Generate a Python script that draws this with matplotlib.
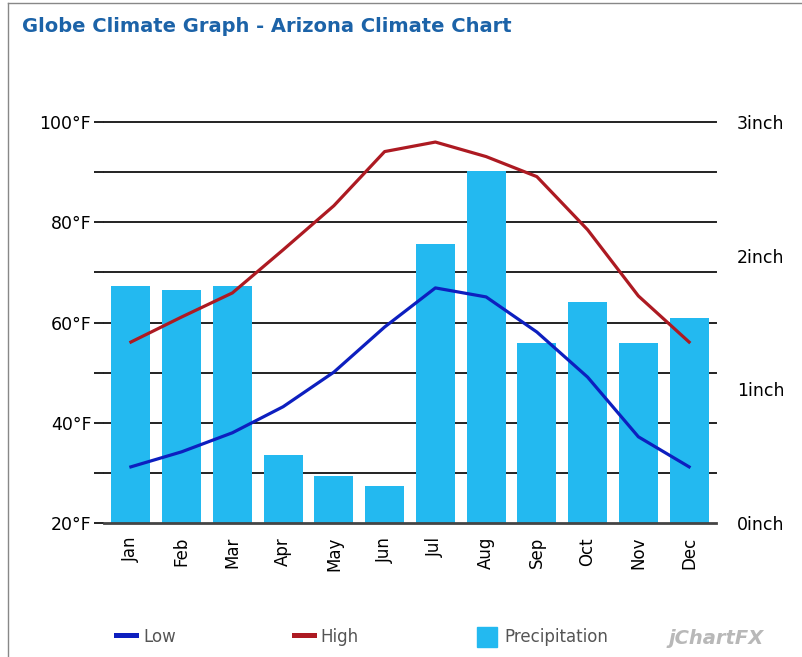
import matplotlib
matplotlib.use("Agg")
import matplotlib.pyplot as plt
from matplotlib.lines import Line2D
from matplotlib.patches import Patch

months = ["Jan", "Feb", "Mar", "Apr", "May", "Jun", "Jul", "Aug", "Sep", "Oct", "Nov", "Dec"]
low_f = [31.2, 34.2, 38.0, 43.2, 50.1, 59.1, 66.9, 65.1, 58.1, 49.1, 37.2, 31.2]
high_f = [56.1, 61.1, 65.9, 74.5, 83.3, 94.1, 96.0, 93.1, 89.1, 78.5, 65.3, 56.1]
precip_in = [1.77, 1.74, 1.77, 0.51, 0.35, 0.28, 2.09, 2.63, 1.35, 1.65, 1.35, 1.53]

temp_ticks = [20, 40, 60, 80, 100]
temp_minor = [30, 50, 70, 90]
inch_ticks = [0, 1, 2, 3]

BAR = "#23b9f0"
LOW = "#0d1fbf"
HIGH = "#ad1a22"
W, H = 802, 657

fig = plt.figure(figsize=(W / 100, H / 100), dpi=100)
fig.patch.set_facecolor("white")

# plot area in pixels: x 104..716, y 122..523
left, right, top, bottom = 104, 716, 122, 523
rect = [left / W, 1 - bottom / H, (right - left) / W, (bottom - top) / H]
ax = fig.add_axes(rect)
x = list(range(len(months)))
ax.set_xlim(-0.53, 11.53)
ax.set_ylim(20, 100)

# grid (bottom layer)
ax.set_yticks(temp_ticks)
ax.set_yticks(temp_minor, minor=True)
ax.set_yticklabels([f"{t}°F" for t in temp_ticks], fontsize=12.5)
ax.tick_params(axis="y", which="both", length=7.2, width=1.4, color="#222222", pad=2)
for t in temp_ticks + temp_minor:
    if t > 20:
        ax.axhline(t, color="#222222", linewidth=1.4, clip_on=False)
for s in ax.spines.values():
    s.set_visible(False)
ax.set_xticks(x)
ax.set_xticklabels(months, rotation=90, fontsize=12)
ax.tick_params(axis="x", length=0, pad=10)

# bars (middle layer)
ax2 = ax.twinx()
ax2.bar(x, precip_in, width=0.77, color=BAR, zorder=2)
ax2.set_ylim(0, 3)
ax2.set_yticks(inch_ticks)
ax2.set_yticklabels([f"{t}inch" for t in inch_ticks], fontsize=12.5)
ax2.tick_params(axis="y", length=0, pad=15)
for s in ax2.spines.values():
    s.set_visible(False)
ax2.axhline(0, color="#444444", linewidth=2, clip_on=False, zorder=3)

# lines (top layer)
ax3 = ax.twinx()
ax3.set_ylim(20, 100)
ax3.plot(x, low_f, color=LOW, linewidth=2.3)
ax3.plot(x, high_f, color=HIGH, linewidth=2.3)
ax3.set_yticks([])
for s in ax3.spines.values():
    s.set_visible(False)

fig.text(22 / W, 1 - 26 / H, "Globe Climate Graph - Arizona Climate Chart",
         fontsize=14, fontweight="bold", color="#1c63a8", va="center", ha="left")

handles = [Line2D([0], [0], color=LOW, linewidth=3.6),
           Line2D([0], [0], color=HIGH, linewidth=3.6),
           Patch(facecolor=BAR, edgecolor=BAR)]
leg = fig.legend(handles, ["Low", "High", "Precipitation"], loc="center left",
                 bbox_to_anchor=(108 / W, 1 - 637 / H), ncol=3, frameon=False,
                 fontsize=12, handlelength=1.2, handleheight=1.5, handletextpad=0.4,
                 columnspacing=7.1, borderpad=0)
for t in leg.get_texts():
    t.set_color("#555555")

fig.text(668 / W, 1 - 638 / H, "jChartFX", fontsize=14, style="italic", fontweight="bold",
         color="#b8b8b8", va="center", ha="left")

# outer frame
fig.add_artist(Line2D([8 / W, 8 / W], [0, 1 - 3 / H], color="#888888", linewidth=1))
fig.add_artist(Line2D([8 / W, 1], [1 - 3 / H, 1 - 3 / H], color="#888888", linewidth=1))

fig.savefig("out.png", dpi=100)
